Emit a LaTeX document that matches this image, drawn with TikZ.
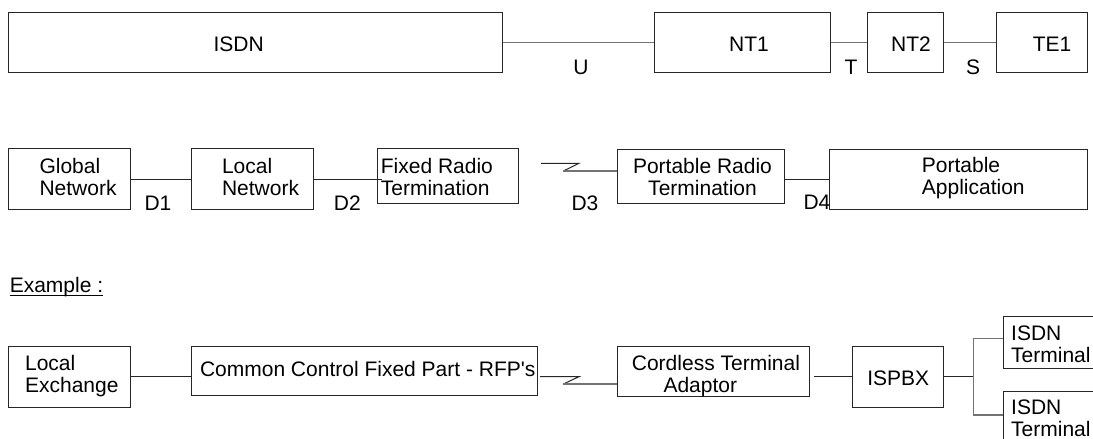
\documentclass[tikz,border=0pt]{standalone}
\usepackage{fontspec}
\setmainfont{Liberation Sans}
\begin{document}
\begin{tikzpicture}[x=1pt, y=-1pt,
    every node/.style={font=\fontsize{21}{22}\selectfont, inner sep=0pt},
    blk/.style={draw=black!85, line width=1pt, anchor=north west},
    lnk/.style={draw=black!85, line width=1pt},
    glnk/.style={draw=black!55, line width=1.4pt},
    lbl/.style={anchor=base},
    txt/.style={anchor=base west, align=left}
]
  \useasboundingbox (0,0) rectangle (1093,439);
  \clip (0,0) rectangle (1093,439);

  % Reference configuration
  \node[blk, minimum width=494pt, minimum height=60pt] (isdn) at (8,12) {};
  \node[blk, minimum width=176pt, minimum height=60pt] (nt1) at (654,12) {};
  \node[blk, minimum width=76pt, minimum height=60pt] (nt2) at (867,12) {};
  \node[blk, minimum width=91pt, minimum height=60pt] (te1) at (996,12) {};
  \node[lbl] (isdn-l) at (238.6,51.5) {ISDN};
  \node[lbl] (nt1-l) at (749,51.5) {NT1};
  \node[lbl] (nt2-l) at (911,51.5) {NT2};
  \node[lbl] (te1-l) at (1052,51.5) {TE1};
  \draw[glnk] (isdn) -- (nt1);
  \draw[glnk] (nt1) -- (nt2);
  \draw[glnk] (nt2) -- (te1);
  \node[lbl] (ref-u) at (581,74) {U};
  \node[lbl] (ref-t) at (851,74) {T};
  \node[lbl] (ref-s) at (973,74) {S};

  % Radio access chain (base = last line)
  \node[blk, minimum width=122pt, minimum height=61pt] (glob) at (8.4,148.3) {};
  \node[blk, minimum width=122pt, minimum height=61pt] (loc) at (191.2,148.3) {};
  \node[blk, minimum width=140.5pt, minimum height=54.4pt] (frt) at (377.2,148.3) {};
  \node[blk, minimum width=167.7pt, minimum height=53.7pt] (prt) at (616.7,149) {};
  \node[blk, minimum width=258pt, minimum height=60pt] (pa) at (829.3,149) {};
  \node[txt] (glob-l) at (39.3,195.3) {Global\\Network};
  \node[txt] (loc-l) at (221.8,195.3) {Local\\Network};
  \node[txt] (frt-l) at (380.7,195.3) {Fixed Radio\\Termination};
  \node[lbl, align=center] (prt-l) at (702.5,195.3) {Portable Radio\\Termination};
  \node[txt] (pa-l) at (921.7,194) {Portable\\Application};
  \draw[lnk] (glob) -- (loc);
  \draw[lnk] (loc.east) -- ([xshift=4.5pt]frt.west |- loc.east);
  \coordinate (zz1) at (541,163.3);
  \draw[lnk] (zz1) -- ++(38,0) -- ++(-15.7,7.7) coordinate (zz1b);
  \draw[glnk] (zz1b) -- (zz1b -| prt.west);
  \draw[lnk] (prt.east |- pa.west) -- (pa.west);
  \node[lbl] (ref-d1) at (158,210) {D1};
  \node[lbl] (ref-d2) at (347.4,210) {D2};
  \node[lbl] (ref-d3) at (585,210) {D3};
  \node[lbl] (ref-d4) at (817,209) {D4};

  % Example
  \node[txt] (ex) at (9.6,292) {Example :};
  \draw[line width=1pt] ([yshift=-3pt]ex.base west) -- ([yshift=-3pt]ex.base east);
  \node[blk, minimum width=122pt, minimum height=61pt] (lex) at (8.4,345.7) {};
  \node[blk, minimum width=345.3pt, minimum height=49.3pt] (ccfp) at (191.4,345.7) {};
  \node[blk, minimum width=192.6pt, minimum height=50pt] (cta) at (616.7,345.7) {};
  \node[blk, minimum width=91.6pt, minimum height=61pt] (ispbx) at (851.7,345.7) {};
  \node[blk, minimum width=120pt, minimum height=52.6pt] (term1) at (1003.3,315.7) {};
  \node[blk, minimum width=120pt, minimum height=70pt] (term2) at (1003.3,390.7) {};
  \node[txt] (lex-l) at (24.9,392) {Local\\Exchange};
  \node[txt] (ccfp-l) at (199.8,376.7) {Common Control Fixed Part - RFP\textquotesingle s};
  \node[txt] (cta-l) at (631.7,392) {Cordless Terminal\\\hspace*{31.6pt}Adaptor};
  \node[lbl] (ispbx-l) at (898.3,385) {ISPBX};
  \node[txt] (term1-l) at (1011,362) {ISDN\\Terminal};
  \node[txt] (term2-l) at (1011,436) {ISDN\\Terminal};
  \draw[lnk] (lex.east) -- (lex.east -| ccfp.west);
  \coordinate (zz2) at (540,376.7);
  \draw[lnk] (zz2) -- ++(39,0) -- ++(-15.7,7.3) coordinate (zz2b);
  \draw[glnk] (zz2b) -- (zz2b -| cta.west);
  \draw[lnk] ([xshift=4pt]cta.east |- ispbx.west) -- (ispbx.west);
  \coordinate (br1) at (973.3,338.3);
  \coordinate (br2) at (973.3,415);
  \draw[lnk] (ispbx.east) -- (ispbx.east -| br1);
  \draw[glnk] (term1.west |- br1) -- (br1) -- (br2) -- (term2.west |- br2);
\end{tikzpicture}
\end{document}
